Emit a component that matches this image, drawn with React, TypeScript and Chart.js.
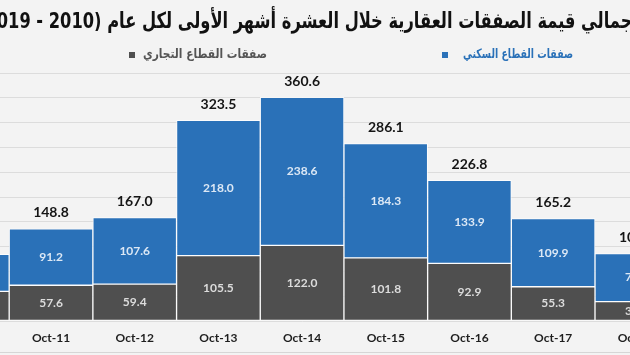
import React, { useEffect, useRef } from "react";
import { Chart, registerables } from "chart.js";

Chart.register(...registerables);

const categories = ["Oct-10", "Oct-11", "Oct-12", "Oct-13", "Oct-14", "Oct-15", "Oct-16", "Oct-17", "Oct-18"];
const commercial = [47.9, 57.6, 59.4, 105.5, 122.0, 101.8, 92.9, 55.3, 31.2];
const residential = [59.7, 91.2, 107.6, 218.0, 238.6, 184.3, 133.9, 109.9, 77.6];
const titleText = "إجمالي قيمة الصفقات العقارية خلال العشرة أشهر الأولى لكل عام (2010 - 2019)";
const residentialLabel = "صفقات القطاع السكني";
const commercialLabel = "صفقات القطاع التجاري";
const yMax = 400;
const yStep = 40;

const BLUE = "#2a71b8";
const GREY = "#4f4f4f";
const OFFSET_X = -100; // canvas left edge relative to the page
const CANVAS_W = 800;
const CANVAS_H = 355;

const decorPlugin = {
  id: "decor",
  beforeDraw(chart: any) {
    const ctx = chart.ctx;
    ctx.save();
    ctx.fillStyle = "#f3f3f3";
    ctx.fillRect(0, 0, chart.width, chart.height);
    ctx.restore();
  },
  afterDraw(chart: any) {
    const ctx = chart.ctx;
    const px = (x: number) => x - OFFSET_X;
    ctx.save();
    // title
    ctx.direction = "rtl";
    ctx.font = "bold 22px 'DejaVu Sans'";
    ctx.fillStyle = "#111111";
    ctx.textAlign = "right";
    ctx.textBaseline = "middle";
    ctx.fillText(titleText, px(638), 22, 660);
    // legend
    ctx.font = "bold 13px 'DejaVu Sans'";
    ctx.fillStyle = GREY;
    ctx.fillRect(px(129), 52, 6, 6);
    ctx.fillStyle = "#555555";
    ctx.fillText(commercialLabel, px(267), 55, 124);
    ctx.fillStyle = BLUE;
    ctx.fillRect(px(442), 52, 6, 6);
    ctx.fillText(residentialLabel, px(573), 55, 110);
    // bottom frame line
    ctx.strokeStyle = "#d6d6d6";
    ctx.lineWidth = 1;
    ctx.beginPath();
    ctx.moveTo(0, 352.5);
    ctx.lineTo(chart.width, 352.5);
    ctx.stroke();
    ctx.restore();
  },
  afterDatasetsDraw(chart: any) {
    const ctx = chart.ctx;
    ctx.save();
    ctx.textAlign = "center";
    ctx.textBaseline = "middle";
    const m0 = chart.getDatasetMeta(0);
    const m1 = chart.getDatasetMeta(1);
    ctx.font = "bold 12px Lato";
    m0.data.forEach((el: any, i: number) => {
      const p = el.getProps(["x", "y", "base"], true);
      ctx.fillStyle = "#dcdcdc";
      ctx.fillText(commercial[i].toFixed(1), p.x, (p.y + p.base) / 2);
    });
    m1.data.forEach((el: any, i: number) => {
      const p = el.getProps(["x", "y", "base"], true);
      ctx.fillStyle = "#dce8f5";
      ctx.fillText(residential[i].toFixed(1), p.x, (p.y + p.base) / 2);
    });
    ctx.font = "bold 14px Lato";
    ctx.fillStyle = "#151515";
    m1.data.forEach((el: any, i: number) => {
      const p = el.getProps(["x", "y"], true);
      const total = commercial[i] + residential[i];
      ctx.fillText(total.toFixed(1), p.x, p.y - 16);
    });
    ctx.restore();
  },
};

export default function App() {
  const ref = useRef<HTMLCanvasElement | null>(null);
  useEffect(() => {
    if (!ref.current) return;
    const chart = new Chart(ref.current, {
      type: "bar",
      data: {
        labels: categories,
        datasets: [
          {
            label: commercialLabel,
            data: commercial,
            backgroundColor: GREY,
            borderColor: "rgba(255,255,255,0.75)",
            borderWidth: 1,
            borderSkipped: false,
          },
          {
            label: residentialLabel,
            data: residential,
            backgroundColor: BLUE,
            borderColor: "rgba(255,255,255,0.75)",
            borderWidth: 1,
            borderSkipped: false,
          },
        ],
      },
      options: {
        responsive: false,
        animation: false,
        devicePixelRatio: 1,
        layout: { padding: { left: 25.5, right: 21.3, top: 73, bottom: 0 } },
        plugins: {
          legend: { display: false },
          title: { display: false },
          tooltip: { enabled: false },
        },
        datasets: { bar: { barPercentage: 1, categoryPercentage: 1 } },
        scales: {
          x: {
            stacked: true,
            grid: { display: false, drawTicks: false },
            border: { display: false },
            ticks: {
              color: "#1e1e1e",
              font: { family: "Lato", weight: "bold", size: 12 },
              padding: 10,
              maxRotation: 0,
              autoSkip: false,
            },
            afterFit: (s: any) => {
              s.height = 34;
            },
          },
          y: {
            stacked: true,
            min: 0,
            max: yMax,
            ticks: { display: false, stepSize: yStep },
            grid: { color: "#dcdcdc", drawTicks: false, lineWidth: 1 },
            border: { display: false },
            afterFit: (s: any) => {
              s.width = 0;
            },
          },
        },
      },
      plugins: [decorPlugin],
    });
    return () => chart.destroy();
  }, []);
  return (
    <div style={{ position: "fixed", left: 0, top: 0, width: 630, height: 355, overflow: "hidden", background: "#f3f3f3" }}>
      <div style={{ position: "absolute", left: OFFSET_X, top: 0, width: CANVAS_W, height: CANVAS_H }}>
        <canvas ref={ref} width={CANVAS_W} height={CANVAS_H} style={{ width: CANVAS_W, height: CANVAS_H, display: "block" }} />
      </div>
    </div>
  );
}
